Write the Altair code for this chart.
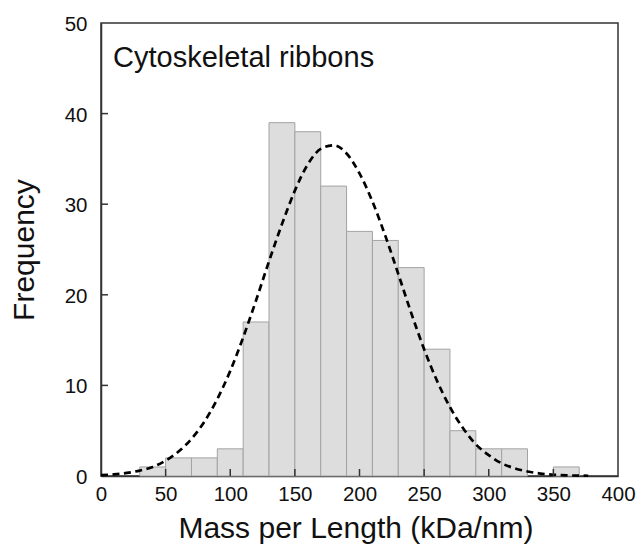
import altair as alt
import pandas as pd

# Histogram bins (kDa/nm) and counts
bin_start = [30, 50, 70, 90, 110, 130, 150, 170, 190, 210, 230, 250, 270, 290, 310, 330, 350]
bin_end = [50, 70, 90, 110, 130, 150, 170, 190, 210, 230, 250, 270, 290, 310, 330, 350, 370]
counts = [1, 2, 2, 3, 17, 39, 38, 32, 27, 26, 23, 14, 5, 3, 3, 0, 1]

# Fitted curve
curve_x = [0, 10, 20, 30, 40, 50, 60, 70, 80, 90, 100, 110, 120, 130, 140, 150, 160, 170,
           180, 190, 200, 210, 220, 230, 240, 250, 260, 270, 280, 290, 300, 310, 320, 330,
           340, 350, 360, 370, 377]
curve_y = [0.1, 0.18, 0.34, 0.6, 1.0, 1.7, 2.7, 4.1, 6.0, 8.5, 11.6, 15.3, 19.4, 23.7, 27.8,
           31.5, 34.4, 36.1, 36.5, 35.6, 33.4, 30.3, 26.5, 22.3, 18.0, 14.0, 10.5, 7.6, 5.3,
           3.5, 2.3, 1.4, 0.85, 0.5, 0.27, 0.14, 0.07, 0.04, 0.03]

x_ticks = [0, 50, 100, 150, 200, 250, 300, 350, 400]
y_ticks = [0, 10, 20, 30, 40, 50]
inner_x_ticks = [50, 100, 150, 200, 250, 300, 350]
inner_y_ticks = [10, 20, 30, 40]

W, H = 517, 453
FONT = "Liberation Sans"

bars_df = pd.DataFrame({"start": bin_start, "end": bin_end, "count": counts})
curve_df = pd.DataFrame({"x": curve_x, "y": curve_y})

xscale = alt.Scale(domain=[0, 400], nice=False, zero=False)
yscale = alt.Scale(domain=[0, 50], nice=False)

xaxis = alt.Axis(values=x_ticks, tickSize=0, labelPadding=8, labelFontSize=20.5,
                 labelFont=FONT, labelColor="#111", domainColor="#333", domainWidth=1.5,
                 grid=False, title="Mass per Length (kDa/nm)", titleFont=FONT,
                 titleFontSize=30, titleFontWeight="normal", titleColor="#111",
                 titleX=W / 2 - 4, titleY=61, titleBaseline="alphabetic", titleAlign="center",
                 labelFlush=False)
yaxis = alt.Axis(values=y_ticks, tickSize=0, labelPadding=14, labelFontSize=20.5,
                 labelFont=FONT, labelColor="#111", domainColor="#333", domainWidth=1.5,
                 grid=False, title="Frequency", titleFont=FONT, titleFontSize=30,
                 titleFontWeight="normal", titleColor="#111", titleAngle=270,
                 titleX=-68, titleY=H / 2, titleBaseline="alphabetic", titleAlign="center",
                 labelFlush=False, labelOffset=1.5)

bars = alt.Chart(bars_df).transform_filter("datum.count > 0").mark_bar(
    fill="#dcdddc", stroke="#a3a3a3", strokeWidth=1
).encode(
    x=alt.X("start:Q", scale=xscale, axis=xaxis),
    x2="end:Q",
    y=alt.Y("count:Q", scale=yscale, axis=yaxis),
    y2=alt.datum(0),
)

curve = alt.Chart(curve_df).mark_line(
    color="black", strokeWidth=2.7, strokeDash=[7, 4.5], interpolate="monotone"
).encode(
    x=alt.X("x:Q", scale=xscale),
    y=alt.Y("y:Q", scale=yscale),
)

xt = alt.Chart(pd.DataFrame({"v": inner_x_ticks})).mark_rule(color="#333", strokeWidth=1.5).encode(
    x=alt.X("v:Q", scale=xscale), y=alt.value(H), y2=alt.value(H - 7)
)
yt = alt.Chart(pd.DataFrame({"v": inner_y_ticks})).mark_rule(color="#333", strokeWidth=1.5).encode(
    y=alt.Y("v:Q", scale=yscale), x=alt.value(0), x2=alt.value(7)
)

label = alt.Chart(pd.DataFrame({"t": ["Cytoskeletal ribbons"]})).mark_text(
    align="left", baseline="alphabetic", font=FONT, fontSize=29, color="#111"
).encode(text="t:N", x=alt.value(12), y=alt.value(44))

chart = alt.layer(bars, curve, xt, yt, label).properties(
    width=W, height=H,
    autosize=alt.AutoSizeParams(type="none"),
    padding={"left": 101, "top": 23, "right": 19, "bottom": 68},
).configure_view(stroke="#333", strokeWidth=1.5)

chart.save("out.html", embed_options={"renderer": "svg", "actions": False})
